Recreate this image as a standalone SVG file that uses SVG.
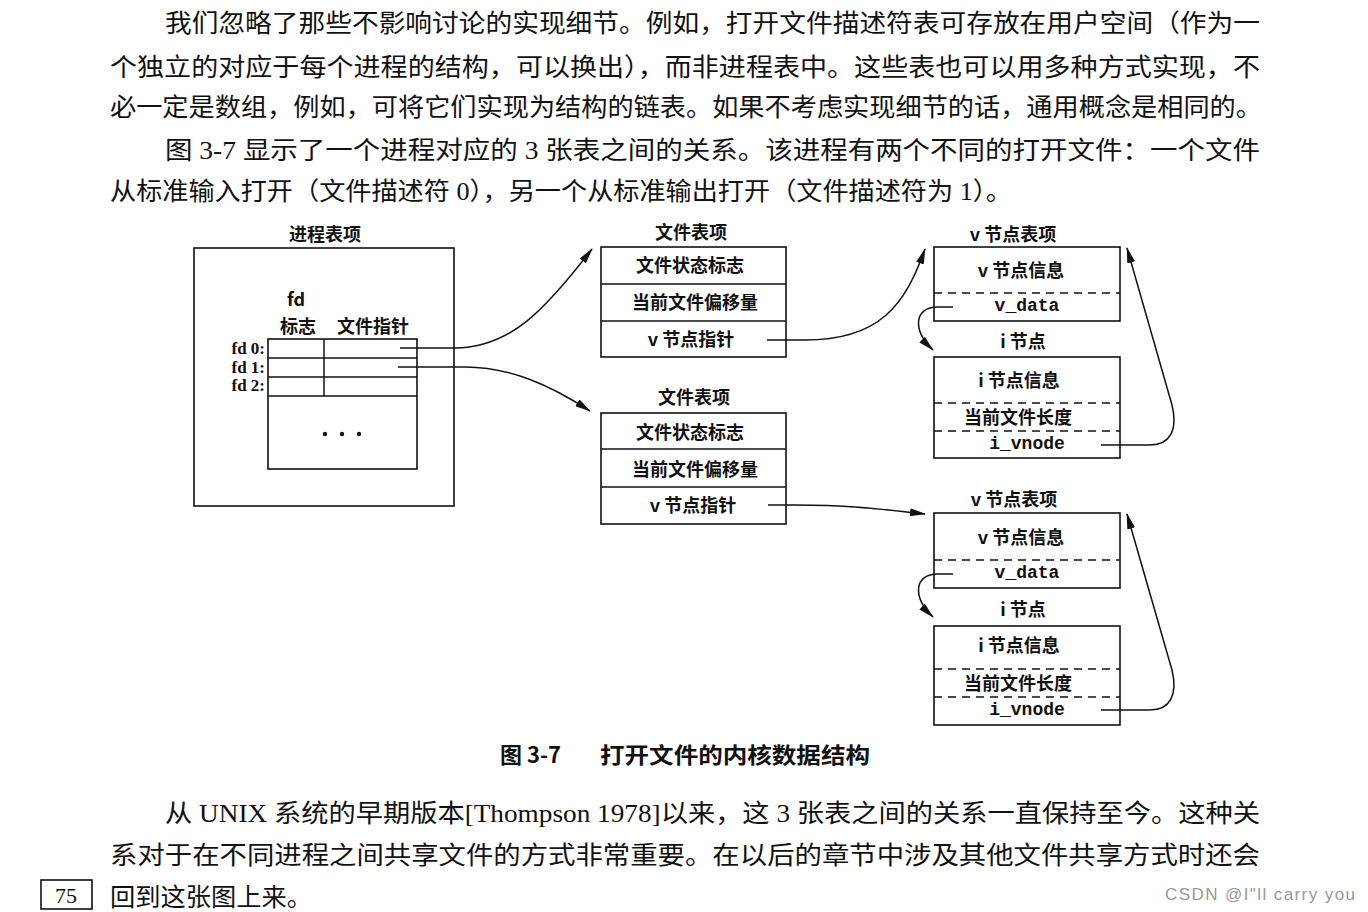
<svg xmlns="http://www.w3.org/2000/svg" width="1368" height="912" viewBox="0 0 1368 912">
<style>
.body{font-family:"Liberation Serif","Noto Sans CJK SC",serif;font-size:25px;fill:#111}
.lbl{font-family:"Noto Sans CJK SC","Liberation Sans",sans-serif;font-size:18px;font-weight:bold;fill:#111;text-anchor:middle}
.mono{font-family:"Liberation Mono",monospace;font-size:18px;font-weight:bold;fill:#111;text-anchor:middle}
.fd{font-family:"Liberation Serif","Noto Sans CJK SC",serif;font-size:17px;font-weight:bold;fill:#111;text-anchor:end}
.box{fill:none;stroke:#111;stroke-width:1.6}
.ln{stroke:#111;stroke-width:1.5;fill:none}
.dash{stroke:#111;stroke-width:1.5;stroke-dasharray:8 6;fill:none}
.cap{font-family:"Noto Sans CJK SC","Liberation Sans",sans-serif;font-size:22px;font-weight:bold;fill:#111}
</style>
<defs>
<marker id="ah" viewBox="0 0 16 8" refX="15" refY="4" markerWidth="16" markerHeight="8" markerUnits="userSpaceOnUse" orient="auto">
<path d="M0,0 L16,4 L0,8 Z" fill="#111"/>
</marker>
</defs>
<rect width="1368" height="912" fill="#fff"/>

<g id="body-top">
<text class="body" x="165" y="32" textLength="1095" lengthAdjust="spacingAndGlyphs">我们忽略了那些不影响讨论的实现细节。例如，打开文件描述符表可存放在用户空间（作为一</text>
<text class="body" x="110" y="76" textLength="1150" lengthAdjust="spacingAndGlyphs">个独立的对应于每个进程的结构，可以换出），而非进程表中。这些表也可以用多种方式实现，不</text>
<text class="body" x="110" y="116" textLength="1152" lengthAdjust="spacingAndGlyphs">必一定是数组，例如，可将它们实现为结构的链表。如果不考虑实现细节的话，通用概念是相同的。</text>
<text class="body" x="165" y="159" textLength="1095" lengthAdjust="spacingAndGlyphs">图 3-7 显示了一个进程对应的 3 张表之间的关系。该进程有两个不同的打开文件：一个文件</text>
<text class="body" x="110" y="200" textLength="902" lengthAdjust="spacingAndGlyphs">从标准输入打开（文件描述符 0），另一个从标准输出打开（文件描述符为 1）。</text>
</g>

<g id="process-table">
<text class="lbl" x="325" y="241">进程表项</text>
<rect class="box" x="194" y="248" width="260" height="258"/>
<text class="lbl" x="296" y="306">fd</text>
<text class="lbl" x="298" y="333">标志</text>
<text class="lbl" x="373" y="333">文件指针</text>
<rect class="box" x="268" y="339" width="149" height="130"/>
<line class="ln" x1="268" y1="358" x2="417" y2="358"/>
<line class="ln" x1="268" y1="377" x2="417" y2="377"/>
<line class="ln" x1="268" y1="396" x2="417" y2="396"/>
<line class="ln" x1="324" y1="339" x2="324" y2="396"/>
<text class="fd" x="265" y="354">fd 0:</text>
<text class="fd" x="265" y="373">fd 1:</text>
<text class="fd" x="265" y="391">fd 2:</text>
<circle cx="325" cy="434" r="2.2" fill="#111"/>
<circle cx="342" cy="434" r="2.2" fill="#111"/>
<circle cx="359" cy="434" r="2.2" fill="#111"/>
</g>

<g id="file-table-1">
<text class="lbl" x="691" y="239">文件表项</text>
<rect class="box" x="601" y="247" width="185" height="110"/>
<line class="ln" x1="601" y1="284" x2="786" y2="284"/>
<line class="ln" x1="601" y1="321" x2="786" y2="321"/>
<text class="lbl" x="690" y="272">文件状态标志</text>
<text class="lbl" x="695" y="309">当前文件偏移量</text>
<text class="lbl" x="691" y="346">v 节点指针</text>
</g>

<g id="file-table-2">
<text class="lbl" x="694" y="404">文件表项</text>
<rect class="box" x="601" y="413" width="185" height="111"/>
<line class="ln" x1="601" y1="449" x2="786" y2="449"/>
<line class="ln" x1="601" y1="487" x2="786" y2="487"/>
<text class="lbl" x="690" y="439">文件状态标志</text>
<text class="lbl" x="695" y="476">当前文件偏移量</text>
<text class="lbl" x="693" y="512">v 节点指针</text>
</g>

<g id="vnode-1">
<text class="lbl" x="1013" y="241">v 节点表项</text>
<rect class="box" x="934" y="247" width="186" height="74"/>
<line class="dash" x1="934" y1="293" x2="1120" y2="293"/>
<text class="lbl" x="1021" y="277">v 节点信息</text>
<text class="mono" x="1027" y="311">v_data</text>
</g>

<g id="inode-1">
<text class="lbl" x="1023" y="348">i 节点</text>
<rect class="box" x="934" y="357" width="186" height="101"/>
<line class="dash" x1="934" y1="403" x2="1120" y2="403"/>
<line class="dash" x1="934" y1="431" x2="1120" y2="431"/>
<text class="lbl" x="1019" y="387">i 节点信息</text>
<text class="lbl" x="1018" y="424">当前文件长度</text>
<text class="mono" x="1027" y="449">i_vnode</text>
</g>

<g id="vnode-2">
<text class="lbl" x="1014" y="506">v 节点表项</text>
<rect class="box" x="934" y="513" width="186" height="75"/>
<line class="dash" x1="934" y1="560" x2="1120" y2="560"/>
<text class="lbl" x="1021" y="544">v 节点信息</text>
<text class="mono" x="1027" y="578">v_data</text>
</g>

<g id="inode-2">
<text class="lbl" x="1023" y="616">i 节点</text>
<rect class="box" x="934" y="626" width="186" height="99"/>
<line class="dash" x1="934" y1="669" x2="1120" y2="669"/>
<line class="dash" x1="934" y1="697" x2="1120" y2="697"/>
<text class="lbl" x="1019" y="652">i 节点信息</text>
<text class="lbl" x="1018" y="690">当前文件长度</text>
<text class="mono" x="1027" y="715">i_vnode</text>
</g>

<g id="connectors">
<path class="ln" marker-end="url(#ah)" d="M400,348 L455,348 C510,348 545,310 592,249"/>
<path class="ln" marker-end="url(#ah)" d="M398,367 L465,367 C510,367 550,385 590,411"/>
<path class="ln" marker-end="url(#ah)" d="M767,340 L805,340 C880,340 905,305 925,249"/>
<path class="ln" marker-end="url(#ah)" d="M768,505 L795,505 C850,505 880,509 925,514"/>
<path class="ln" marker-end="url(#ah)" d="M953,307 L938,307 C914,307 912,330 933,350"/>
<path class="ln" marker-end="url(#ah)" d="M953,574 L938,574 C914,574 912,597 933,617"/>
<path class="ln" marker-end="url(#ah)" d="M1101,445 L1150,445 C1170,445 1178,430 1172,405 L1127,248"/>
<path class="ln" marker-end="url(#ah)" d="M1101,710 L1150,710 C1170,710 1178,695 1172,670 L1127,514"/>
</g>

<g id="caption">
<text class="cap" x="500" y="763">图 3-7</text>
<text class="cap" x="600" y="763" textLength="270" lengthAdjust="spacingAndGlyphs">打开文件的内核数据结构</text>
</g>

<g id="body-bottom">
<text class="body" x="165" y="822" textLength="1095" lengthAdjust="spacingAndGlyphs">从 UNIX 系统的早期版本[Thompson 1978]以来，这 3 张表之间的关系一直保持至今。这种关</text>
<text class="body" x="110" y="864" textLength="1150" lengthAdjust="spacingAndGlyphs">系对于在不同进程之间共享文件的方式非常重要。在以后的章节中涉及其他文件共享方式时还会</text>
<text class="body" x="110" y="906" textLength="202" lengthAdjust="spacingAndGlyphs">回到这张图上来。</text>
<rect x="41" y="880" width="51" height="29" fill="none" stroke="#111" stroke-width="1.6"/>
<text x="66" y="903" font-family="Liberation Serif, serif" font-size="22" fill="#111" text-anchor="middle">75</text>
<text x="1165" y="900" font-family="Liberation Sans, sans-serif" font-size="17" fill="#999" textLength="190" lengthAdjust="spacing">CSDN @I"ll  carry  you</text>
</g>
</svg>
